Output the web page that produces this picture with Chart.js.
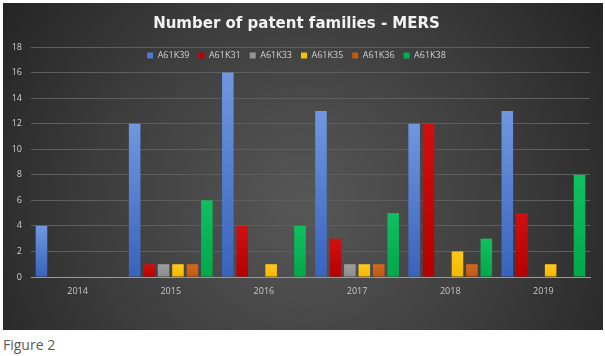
<!DOCTYPE html>
<html>
<head>
<meta charset="utf-8">
<script src="https://cdn.jsdelivr.net/npm/chart.js@4.4.1/dist/chart.umd.min.js"></script>
<style>
  html, body { margin: 0; padding: 0; background: #ffffff; width: 605px; height: 356px; overflow: hidden; }
  #wrap { position: absolute; left: 3px; top: 3px; width: 600px; height: 327px; }
  #cap { position: absolute; left: 3px; top: 335px; font-family: "Open Sans", sans-serif; font-size: 14px; color: #5a5a5a; }
</style>
</head>
<body>
<div id="wrap"><canvas id="c" width="600" height="327"></canvas></div>
<div id="cap">Figure 2</div>
<script>
const categories = ["2014", "2015", "2016", "2017", "2018", "2019"];
const seriesNames = ["A61K39", "A61K31", "A61K33", "A61K35", "A61K36", "A61K38"];
const A61K39 = [4, 12, 16, 13, 12, 13];
const A61K31 = [0, 1, 4, 3, 12, 5];
const A61K33 = [0, 1, 0, 1, 0, 0];
const A61K35 = [0, 1, 1, 1, 2, 1];
const A61K36 = [0, 1, 0, 1, 1, 0];
const A61K38 = [0, 6, 4, 5, 3, 8];
const yTicks = [0, 2, 4, 6, 8, 10, 12, 14, 16, 18];

const seriesValues = [A61K39, A61K31, A61K33, A61K35, A61K36, A61K38];
const topColors = ["#7097e0", "#d01010", "#a0a0a0", "#ffc81a", "#d2691e", "#10c060"];
const botColors = ["#3863bd", "#b50000", "#8a8a8a", "#f5b800", "#c0570f", "#00a84a"];
const legendColors = ["#4f7ad0", "#c00000", "#959595", "#ffc000", "#c55a11", "#00b050"];

function barFill(i) {
  return function(ctx) {
    const chart = ctx.chart;
    const y = chart.scales.y;
    if (!y || ctx.type !== 'data') return legendColors[i];
    const v = ctx.raw;
    const top = y.getPixelForValue(v);
    const bot = y.getPixelForValue(0);
    if (!isFinite(top) || top === bot) return legendColors[i];
    const g = chart.ctx.createLinearGradient(0, top, 0, bot);
    g.addColorStop(0, topColors[i]);
    g.addColorStop(1, botColors[i]);
    return g;
  };
}

const bgPlugin = {
  id: 'bg',
  beforeDraw(chart) {
    const c = chart.ctx;
    const w = chart.width, h = chart.height;
    c.save();
    const g = c.createRadialGradient(w * 0.5, h * 0.62, 10, w * 0.5, h * 0.62, w * 0.62);
    g.addColorStop(0, '#565656');
    g.addColorStop(0.55, '#3c3c3c');
    g.addColorStop(1, '#232323');
    c.fillStyle = g;
    c.fillRect(0, 0, w, h);
    c.restore();
  }
};

// Legend placed inside the top of the plot area (overlapping the plot, as in Excel)
const legendInsidePlugin = {
  id: 'legendInside',
  afterInit(chart) {
    const lg = chart.legend;
    if (!lg) return;
    const origFit = lg.fit.bind(lg);
    lg.fit = function() { origFit(); this.height = 0; };
    const origDraw = lg.draw.bind(lg);
    lg.draw = function() {
      const c = chart.ctx;
      const b = this.bottom, h = this.height;
      this.bottom = this.top + 30;
      this.height = 30;
      c.save();
      c.translate(0, -5);
      origDraw();
      c.restore();
      this.bottom = b;
      this.height = h;
    };
  }
};

const datasets = seriesNames.map((name, i) => ({
  label: name,
  data: seriesValues[i],
  backgroundColor: barFill(i),
  borderWidth: 0,
  categoryPercentage: 0.93,
  barPercentage: 0.8
}));

new Chart(document.getElementById('c'), {
  type: 'bar',
  data: { labels: categories, datasets: datasets },
  plugins: [bgPlugin, legendInsidePlugin],
  options: {
    responsive: false,
    animation: false,
    layout: { padding: { left: 0, right: 13, top: 0, bottom: 0 } },
    plugins: {
      tooltip: { enabled: false },
      title: {
        display: true,
        text: 'Number of patent families - MERS',
        color: '#f2f2f2',
        font: { family: 'DejaVu Sans', size: 15, weight: 'bold' },
        padding: { top: 12, bottom: 14 }
      },
      legend: {
        position: 'top',
        align: 'center',
        labels: {
          color: '#d0d0d0',
          font: { family: 'Open Sans', size: 9 },
          boxWidth: 6,
          boxHeight: 6,
          padding: 9,
          generateLabels(chart) {
            return seriesNames.map((n, i) => ({
              text: n, fillStyle: legendColors[i], strokeStyle: legendColors[i],
              lineWidth: 0, hidden: false, datasetIndex: i, fontColor: '#d0d0d0'
            }));
          }
        }
      }
    },
    scales: {
      x: {
        grid: { display: false, drawTicks: false },
        border: { display: true, color: '#9a9a9a', width: 1 },
        ticks: { color: '#c8c8c8', font: { family: 'Open Sans', size: 9 }, padding: 9 },
        afterFit(s) { s.height = 53; }
      },
      y: {
        min: 0, max: 18,
        afterBuildTicks(s) { s.ticks = yTicks.map(v => ({ value: v })); },
        grid: { color: '#5e5e5e', lineWidth: 1, drawTicks: false },
        border: { display: false },
        ticks: { color: '#d0d0d0', font: { family: 'Open Sans', size: 9 }, padding: 9 },
        afterFit(s) { s.width = 28; }
      }
    }
  }
});
</script>
</body>
</html>
